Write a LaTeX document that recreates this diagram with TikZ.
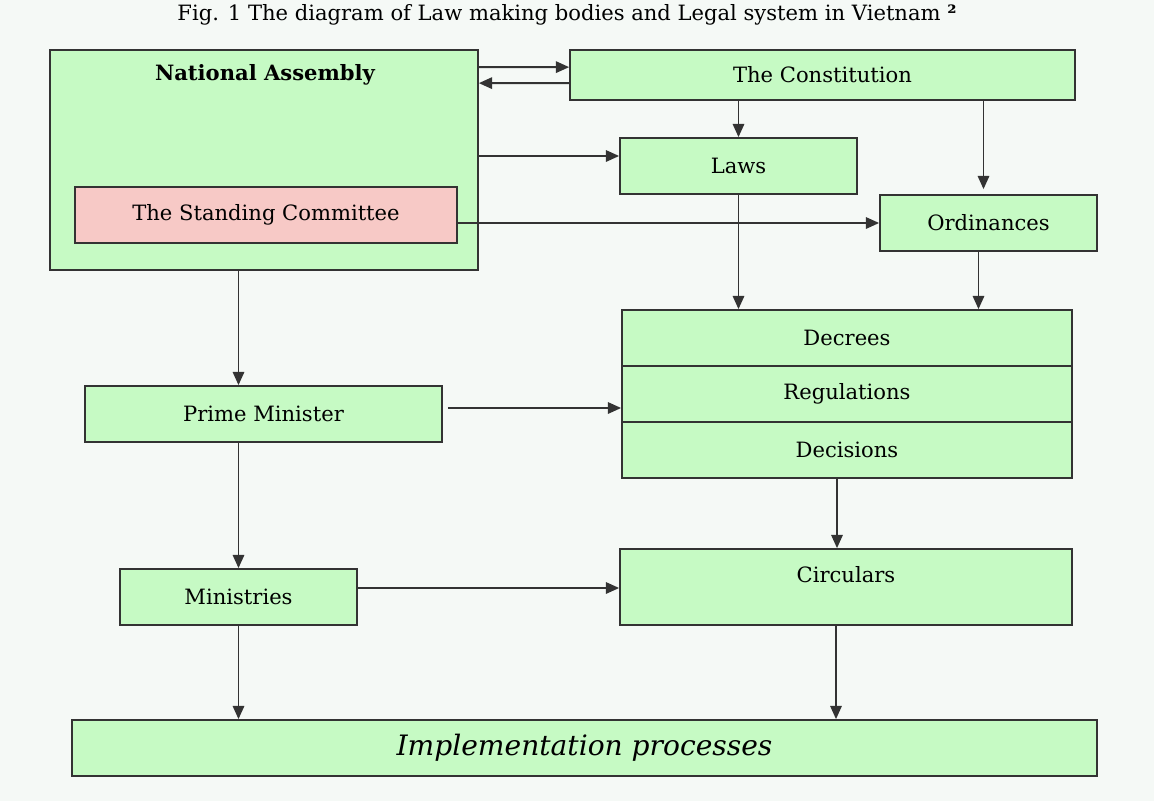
\documentclass[tikz,border=0pt]{standalone}
\usepackage{fontspec}
\setmainfont{DejaVu Serif}
\usetikzlibrary{arrows.meta}

\definecolor{boxgreen}{HTML}{C6FAC4}
\definecolor{boxpink}{HTML}{F7C9C6}
\definecolor{paper}{HTML}{F5F9F6}
\definecolor{edge}{HTML}{333333}

\begin{document}
\begin{tikzpicture}[
    box/.style={rectangle, draw=edge, line width=1pt, fill=boxgreen, inner sep=0pt,
                font=\fontsize{12}{14}\selectfont},
    arr/.style={draw=edge, line width=1pt, -{Triangle[length=7.5pt, width=6.5pt]}}
  ]
    \fill[paper] (0, 0) rectangle (23.08, -16.02);
    \useasboundingbox (0, 0) rectangle (23.08, -16.02);

    \node[font=\fontsize{12}{14}\selectfont] (title) at (11.34, -0.3)
      {Fig. 1 The diagram of Law making bodies and Legal system in Vietnam \textbf{²}};

    \node[box, minimum width=8.56cm, minimum height=4.4cm] (NA) at (5.28, -3.2) {};
    \node[font=\fontsize{12}{14}\selectfont\bfseries] (NAlabel) at (5.3, -1.5) {National Assembly};
    \node[box, fill=boxpink, minimum width=7.64cm, minimum height=1.12cm] (SC) at (5.32, -4.3) {The Standing Committee};

    \node[box, minimum width=10.1cm, minimum height=1.0cm] (Const) at (16.45, -1.5) {The Constitution};
    \node[box, minimum width=4.74cm, minimum height=1.12cm] (Laws) at (14.77, -3.32) {Laws};
    \node[box, minimum width=4.34cm, minimum height=1.12cm] (Ord) at (19.77, -4.46) {Ordinances};

    \node[box, minimum width=9.0cm, minimum height=1.12cm] (Dec) at (16.94, -6.76) {Decrees};
    \node[box, minimum width=9.0cm, minimum height=1.12cm] (Reg) at (16.94, -7.88) {Regulations};
    \node[box, minimum width=9.0cm, minimum height=1.12cm] (Dcs) at (16.94, -9.0) {Decisions};

    \node[box, minimum width=7.14cm, minimum height=1.12cm] (PM) at (5.27, -8.28) {Prime Minister};
    \node[box, minimum width=4.74cm, minimum height=1.12cm] (Min) at (4.77, -11.94) {Ministries};
    \node[box, minimum width=9.04cm, minimum height=1.52cm] (Circ) at (16.92, -11.74) {};
    \node[font=\fontsize{12}{14}\selectfont] (Circlabel) at (16.92, -11.5) {Circulars};

    \node[box, minimum width=20.5cm, minimum height=1.12cm, font=\fontsize{16}{19}\selectfont\itshape] (Impl) at (11.69, -14.96) {Implementation processes};

    \draw[arr] ([yshift=-0.36cm]NA.north east) -- ([yshift=-0.36cm]Const.north west);
    \draw[arr] ([yshift=-0.68cm]Const.north west) -- ([yshift=-0.68cm]NA.north east);
    \draw[arr] ([yshift=0.2cm]Laws.west -| NA.east) -- ([yshift=0.2cm]Laws.west);
    \draw[arr] (SC.east |- Ord.west) -- (Ord.west);
    \draw[arr] (Const.south -| Laws.north) -- (Laws.north);
    \draw[arr] ([xshift=-0.1cm]Const.south -| Ord.north) -- ([xshift=-0.1cm, yshift=0.1cm]Ord.north);
    \draw[arr] (Laws.south) -- (Laws.south |- Dec.north);
    \draw[arr] ([xshift=-0.2cm]Ord.south) -- ([xshift=-0.2cm]Ord.south |- Dec.north);
    \draw[arr] (NA.south -| Min.north) -- (PM.north -| Min.north);
    \draw[arr] ([xshift=0.1cm, yshift=0.12cm]PM.east) -- ([yshift=0.12cm]PM.east -| Reg.west);
    \draw[arr] (PM.south -| Min.north) -- (Min.north);
    \draw[arr] ([xshift=-0.2cm]Dcs.south) -- ([xshift=-0.2cm]Dcs.south |- Circ.north);
    \draw[arr] ([yshift=0.18cm]Min.east) -- ([yshift=0.18cm]Min.east -| Circ.west);
    \draw[arr] (Min.south) -- (Min.south |- Impl.north);
    \draw[arr] ([xshift=-0.2cm]Circ.south) -- ([xshift=-0.2cm]Circ.south |- Impl.north);
  \end{tikzpicture}
\end{document}
